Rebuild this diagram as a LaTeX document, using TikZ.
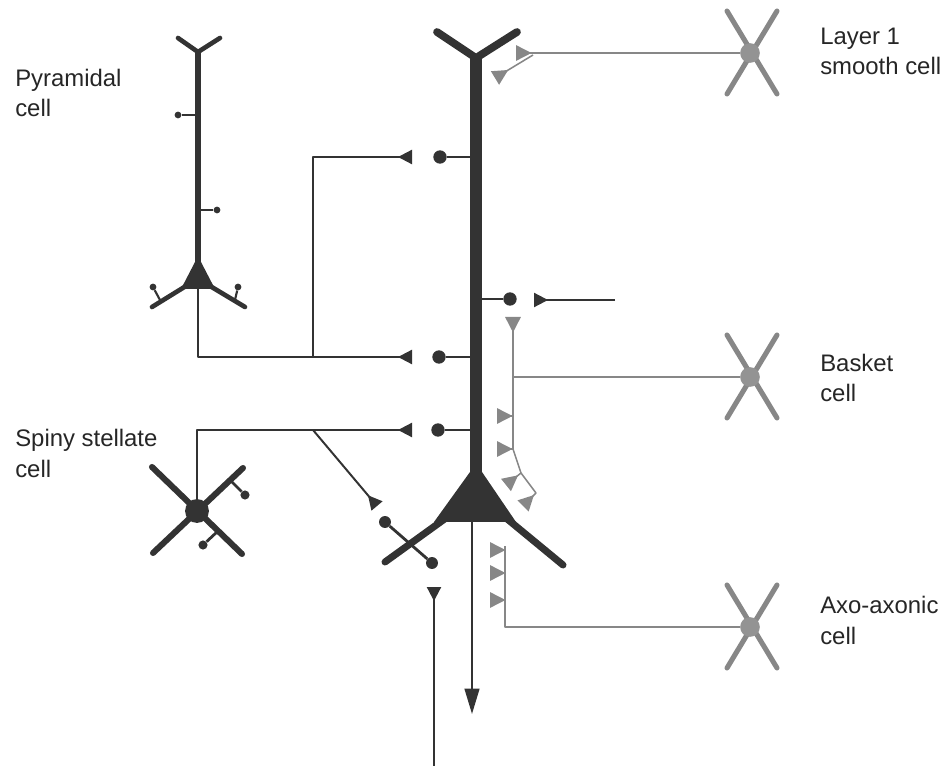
\documentclass[tikz,border=0pt]{standalone}
\usepackage{fontspec}
\setmainfont{Liberation Sans}
\usetikzlibrary{arrows.meta}

\definecolor{celldark}{HTML}{333333}
\definecolor{cellgray}{HTML}{878787}

\tikzset{
  syn/.tip={Triangle[reversed,length=10pt,width=10pt]},
  isyn/.tip={Triangle[reversed,length=11pt,width=11pt]},
}

\begin{document}
\begin{tikzpicture}[x=0.25mm,y=-0.25mm,line join=round,
  dend/.style={draw=celldark,line width=#1,line cap=round},
  trunk/.style={draw=celldark,line width=#1},
  axon/.style={draw=celldark,line width=1.4pt},
  spine/.style={draw=celldark,line width=#1},
  spine/.default=2pt,
  head/.style={circle,fill=celldark,inner sep=0pt,minimum size=#1},
  idend/.style={draw=cellgray,line width=3.6pt,line cap=round},
  iaxon/.style={draw=cellgray,line width=1.1pt},
  isoma/.style={circle,fill=cellgray!90,inner sep=0pt,minimum size=14pt},
  cell label/.style={anchor=base west,align=left,inner sep=0pt,text=black!85,
    font=\fontsize{17}{22}\selectfont}]
\useasboundingbox (0,0) rectangle (948,766);

% labels (placed at the baseline of their last line)
\node[cell label] (pyrLbl) at (15,117) {Pyramidal\\cell};
\node[cell label] (ssLbl) at (15,477) {Spiny stellate\\cell};
\node[cell label] (l1Lbl) at (820,75) {Layer 1\\smooth cell};
\node[cell label] (bcLbl) at (820,402) {Basket\\cell};
\node[cell label] (aaLbl) at (820,644) {Axo-axonic\\cell};

% large pyramidal cell
\coordinate (P1fork) at (476,58);
\coordinate (P1apex) at (476,476);
\coordinate (P1base) at (472,522);
\coordinate (P1out) at (472,714);
\draw[trunk=8.5pt] (P1fork) -- (P1apex);
\draw[dend=5.5pt] (437,32) -- (P1fork) -- (517,32);
\fill[celldark] (470,472) -- (434,522) -- (516,522) -- (482,472) -- cycle;
\draw[dend=5pt] (446,518) -- (385,562);
\draw[dend=5pt] (506,518) -- (563,565);
\draw[axon,-{Triangle[length=18pt,width=10.5pt]}] (P1base) -- (P1out);

% spines on the apical dendrite
\node[head=9.5pt] (s1) at (440,157) {};
\node[head=9.5pt] (s2) at (439,357) {};
\node[head=9.5pt] (s3) at (438,430) {};
\node[head=9.5pt] (s4) at (510,299) {};
\foreach \s in {s1,s2,s3,s4}
  \draw[spine] (\s) -- (\s -| P1fork);
% spines on the basal dendrite
\node[head=8.5pt] (s5) at (385,522) {};
\node[head=8.5pt] (s6) at (432,563) {};
\draw[spine] (s5) -- (s6);

% small pyramidal cell
\coordinate (P2fork) at (198,52);
\coordinate (P2apex) at (198,266);
\coordinate (P2hill) at (198,289);
\draw[trunk=4.3pt] (P2fork) -- (P2apex);
\draw[dend=3.3pt] (178,38) -- (P2fork) -- (220,38);
\fill[celldark] (195,262) -- (181,289) -- (215,289) -- (201,262) -- cycle;
\draw[dend=3.3pt] (186,286) -- (152,307);
\draw[dend=3.3pt] (210,286) -- (245,307);
\node[head=4.8pt] (p2s1) at (178,115) {};
\node[head=4.8pt] (p2s2) at (217,210) {};
\node[head=4.8pt] (p2s3) at (153,287) {};
\node[head=4.8pt] (p2s4) at (238,287) {};
\draw[spine=1.5pt] (p2s1) -- (p2s1 -| P2fork);
\draw[spine=1.5pt] (p2s2) -- (p2s2 -| P2fork);
\draw[spine=1.5pt] (p2s3) -- ++(7,13);
\draw[spine=1.5pt] (p2s4) -- ++(-3,13);

% spiny stellate cell
\draw[dend=4.3pt] (152,467) -- (242,554);
\draw[dend=4.3pt] (243,468) -- (153,553);
\node[head=17pt] (SS) at (197,511) {};
\node[head=6.5pt] (sss1) at (245,495) {};
\node[head=6.5pt] (sss2) at (203,545) {};
\draw[spine] (sss1) -- (230,480);
\draw[spine] (sss2) -- (218,531);

% excitatory inputs
\coordinate (t1) at (412,157);
\coordinate (t2) at (412,357);
\coordinate (t3) at (412,430);
\coordinate (t4) at (377,506);
\coordinate (t5) at (434,587);
\coordinate (t6) at (534,300);
\coordinate (in6) at (615,300);
\coordinate (axEnd) at (434,766);
\coordinate (P2split) at (313,357);
\coordinate (SSsplit) at (313,430);
\draw[axon,-syn] (P2hill) |- (t2);
\draw[axon,-syn] (P2split) |- (t1);
\draw[axon,-syn] (SS) |- (t3);
\draw[axon,-syn] (SSsplit) -- (t4);
\draw[axon,syn-] (t5) -- (axEnd);
\draw[axon,-syn] (in6) -- (t6);

% interneurons
\foreach \n/\y in {L1/53,BC/377,AA/627}{
  \draw[idend] (750,\y) +(-23,-42) -- +(27,41);
  \draw[idend] (750,\y) +(27,-42) -- +(-23,41);
  \node[isoma] (\n) at (750,\y) {};
}

% layer 1 smooth cell onto the apical tuft
\coordinate (L1j) at (533,55);
\draw[iaxon,-isyn] (L1) -- (516,53);
\draw[iaxon,-isyn] (L1j) -- (495,78);

% basket cell onto soma and proximal dendrite
\coordinate (BCj) at (513,377);
\coordinate (BCk) at (513,449);
\coordinate (BCm) at (521,473);
\coordinate (BCn) at (536,493);
\draw[iaxon] (BC) -- (BCj);
\draw[iaxon,-isyn] (BCj) -- (513,317);
\draw[iaxon] (BCj) -- (BCk) -- (BCm) -- (BCn);
\draw[iaxon,-isyn] (513,416) -- (497,416);
\draw[iaxon,-isyn] (BCk) -- (497,449);
\draw[iaxon,-isyn] (BCm) -- (506,485);
\draw[iaxon,-isyn] (BCn) -- (523,506);

% axo-axonic cell onto the initial segment
\coordinate (AAtop) at (505,546);
\draw[iaxon] (AA) -| (AAtop);
\foreach \y in {550,573,600}
  \draw[iaxon,-isyn] (505,\y) -- (490,\y);
\end{tikzpicture}
\end{document}
